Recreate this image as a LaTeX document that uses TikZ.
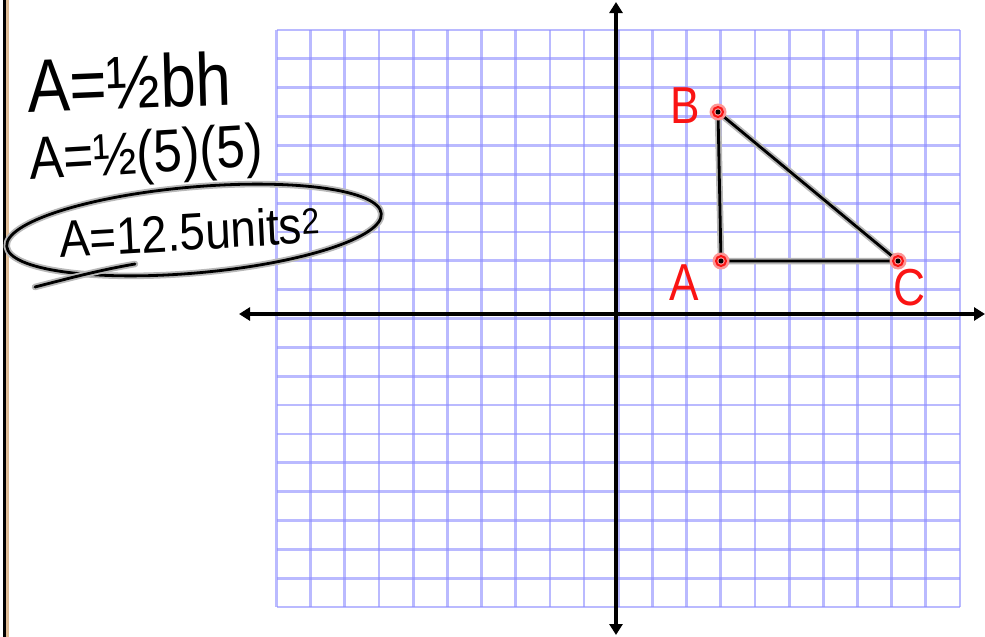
\documentclass[tikz,border=0pt]{standalone}
\usepackage{fontspec}
\setmainfont{Liberation Sans}
\usetikzlibrary{arrows.meta}
\definecolor{gridblue}{RGB}{140,140,255}
\definecolor{edgetan}{RGB}{222,188,150}
\definecolor{penred}{RGB}{250,20,20}
\begin{document}
\begin{tikzpicture}[x=1pt,y=-1pt,
  gridline/.style={draw=gridblue,draw opacity=0.6,line width=2.8pt},
  axisline/.style={line width=3.6pt,{Triangle[width=13pt,length=11pt]}-{Triangle[width=13pt,length=11pt]}},
  ink/.style={line width=2.8pt,line cap=round,line join=round},
  halo/.style={line width=6.5pt,draw=black!28,line cap=round,line join=round},
  hand/.style={inner sep=0pt,anchor=base west,text=black},
  ptlabel/.style={inner sep=0pt,text=penred,font=\fontsize{52}{54}\selectfont,xscale=0.85}
]
\useasboundingbox (0,0) rectangle (985,637);
\fill[white] (0,0) rectangle (985,637);
% left page edge
\fill[black] (3,0) rectangle (5.5,637);
\fill[edgetan] (5.5,0) rectangle (8.5,637);
% grid
\foreach \i in {0,...,20} \draw[gridline] ({276.5+34.175*\i},30) -- ({276.5+34.175*\i},607);
\foreach \j in {0,...,20} \draw[gridline] (276.5,{30+28.85*\j}) -- (960,{30+28.85*\j});
% axes
\coordinate (yT) at (616,2);
\coordinate (yB) at (616,635);
\coordinate (xL) at (239,314);
\coordinate (xR) at (985,314);
\draw[axisline] (yB) -- (yT);
\draw[axisline] (xL) -- (xR);
% triangle
\coordinate (A) at (721,261);
\coordinate (B) at (718,112);
\coordinate (C) at (898,261);
\draw[halo] (A) -- (B) -- (C) -- cycle;
\draw[ink] (A) -- (B) -- (C) -- cycle;
\foreach \p in {A,B,C}{
  \fill[penred!45] (\p) circle (8.5);
  \draw[penred,line width=2pt] (\p) circle (5);
  \fill[black] (\p) circle (2.5);
}
\node[ptlabel] (lA) at (684,283) {A};
\node[ptlabel] (lB) at (685,106) {B};
\node[ptlabel] (lC) at (909,288) {C};
% formulas
\node[hand,font=\fontsize{75}{80}\selectfont,xscale=0.85,rotate=2] (f1) at (28,113) {A=½bh};
\node[hand,font=\fontsize{60}{64}\selectfont,xscale=0.86,rotate=3] (f2) at (30,180) {A=½(5)(5)};
\node[hand,font=\fontsize{52}{56}\selectfont,xscale=0.88,rotate=3] (f3) at (60,258) {A=12.5units\textsuperscript{2}};
% ellipse round the answer
\draw[halo,rotate around={5:(194,230)}] (194,230) ellipse [x radius=188,y radius=43];
\draw[ink,rotate around={5:(194,230)}] (194,230) ellipse [x radius=188,y radius=43];
\draw[halo] (35,287) .. controls (70,278) and (100,270) .. (135,264);
\draw[ink] (35,287) .. controls (70,278) and (100,270) .. (135,264);
\end{tikzpicture}
\end{document}
